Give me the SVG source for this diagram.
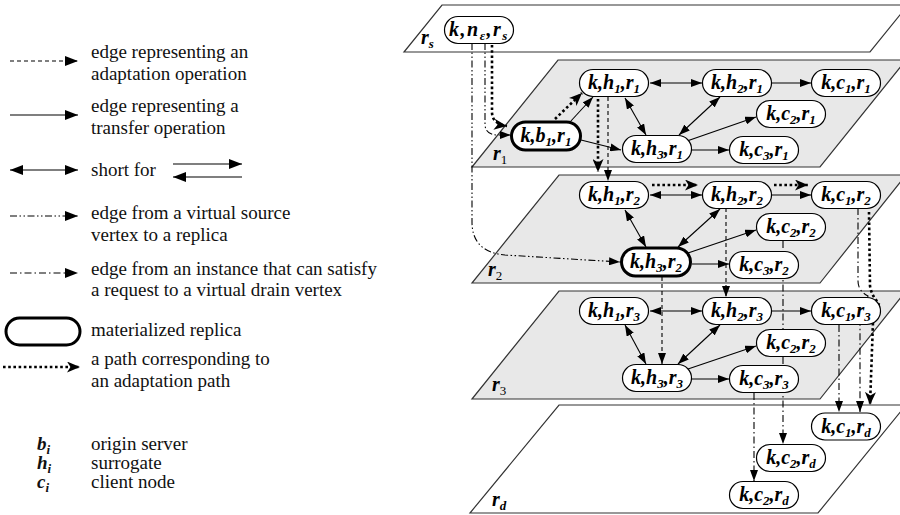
<svg xmlns="http://www.w3.org/2000/svg" width="900" height="515" viewBox="0 0 900 515">
  <style>
    .plane { stroke: #333; stroke-width: 1.2; }
    .gray { fill: #e8e8e8; }
    .white { fill: #fff; }
    .c { fill: none; stroke: #000; stroke-width: 1.1; }
    .one { marker-end: url(#ah); }
    .dbl { marker-start: url(#ah); marker-end: url(#ah); }
    .dash { stroke-dasharray: 4 3; }
    .src { stroke-dasharray: 7 2.5 1.5 2.5 1.5 2.5; }
    .drn { stroke-dasharray: 7 3 1.5 3; }
    .dot { stroke-width: 2.6; stroke-dasharray: 2.6 2.6; marker-end: url(#ahD); }
    .node rect { fill: #fff; stroke: #000; stroke-width: 1.2; }
    .node.mat rect { stroke-width: 3; }
    .nt { font-family: "Liberation Serif", "Times New Roman", serif; font-style: italic; font-weight: bold; font-size: 20px; text-anchor: middle; fill: #000; }
    .sub { font-size: 13px; }
    .pl { font-family: "Liberation Serif", "Times New Roman", serif; font-style: italic; font-weight: bold; font-size: 20px; fill: #000; }
    .plsub { font-size: 13px; font-style: normal; font-weight: normal; }
    .lg { font-family: "Liberation Serif", "Times New Roman", serif; font-size: 19px; fill: #111; }
    .lgs { font-family: "Liberation Serif", "Times New Roman", serif; font-size: 19px; font-style: italic; font-weight: bold; fill: #111; }
    .lc { fill: none; stroke: #000; stroke-width: 1.2; }
    .lc.ldot { stroke-width: 2.6; stroke-dasharray: 2.6 2.6; }
  </style>
  <defs>
    <marker id="ah" viewBox="0 0 11 8" refX="11" refY="4" markerWidth="11" markerHeight="8" markerUnits="userSpaceOnUse" orient="auto-start-reverse">
      <path d="M0,0 L11,4 L0,8 z" fill="#000"/>
    </marker>
    <marker id="ahL" viewBox="0 0 13 10" refX="13" refY="5" markerWidth="13" markerHeight="10" markerUnits="userSpaceOnUse" orient="auto-start-reverse">
      <path d="M0,0 L13,5 L0,10 z" fill="#000"/>
    </marker>
    <marker id="ahD" viewBox="0 0 13 11" refX="13" refY="5.5" markerWidth="13" markerHeight="11" markerUnits="userSpaceOnUse" orient="auto">
      <path d="M0,0 L13,5.5 L0,11 L3.5,5.5 z" fill="#000"/>
    </marker>
  </defs>

  <!-- legend -->
  <g id="legend">
    <line class="lc dash" x1="10" y1="61" x2="78" y2="61" marker-end="url(#ahL)"/>
    <text class="lg" x="91" y="58">edge representing an</text>
    <text class="lg" x="91" y="80">adaptation operation</text>

    <line class="lc" x1="10" y1="115" x2="78" y2="115" marker-end="url(#ahL)"/>
    <text class="lg" x="91" y="112">edge representing a</text>
    <text class="lg" x="91" y="134">transfer operation</text>

    <line class="lc" x1="10" y1="170" x2="78" y2="170" marker-start="url(#ahL)" marker-end="url(#ahL)"/>
    <text class="lg" x="91" y="176">short for</text>
    <line class="lc" x1="173" y1="164" x2="242" y2="164" marker-end="url(#ahL)"/>
    <line class="lc" x1="242" y1="177" x2="173" y2="177" marker-end="url(#ahL)"/>

    <line class="lc src" x1="10" y1="216" x2="78" y2="216" marker-end="url(#ahL)"/>
    <text class="lg" x="91" y="219">edge from a virtual source</text>
    <text class="lg" x="91" y="241">vertex to a replica</text>

    <line class="lc drn" x1="10" y1="273" x2="78" y2="273" marker-end="url(#ahL)"/>
    <text class="lg" x="91" y="275">edge from an instance that can satisfy</text>
    <text class="lg" x="91" y="296">a request to a virtual drain vertex</text>

    <rect x="6" y="318" width="74" height="27" rx="13.5" fill="#fff" stroke="#000" stroke-width="3"/>
    <text class="lg" x="91" y="336">materialized replica</text>

    <line class="lc ldot" x1="3" y1="367" x2="80" y2="367" marker-end="url(#ahD)"/>
    <text class="lg" x="91" y="365">a path corresponding to</text>
    <text class="lg" x="91" y="387">an adaptation path</text>

    <text class="lgs" x="37" y="450">b<tspan class="sub" dy="4">i</tspan></text>
    <text class="lg" x="91" y="450">origin server</text>
    <text class="lgs" x="37" y="469">h<tspan class="sub" dy="4">i</tspan></text>
    <text class="lg" x="91" y="469">surrogate</text>
    <text class="lgs" x="37" y="488">c<tspan class="sub" dy="4">i</tspan></text>
    <text class="lg" x="91" y="488">client node</text>
  </g>

  <!-- stacked layers -->
  <g id="planes">
    <path class="plane white" d="M442,5 L908,5 L870,52 L404,52 Z"/>
    <path class="plane gray" d="M558,60 L906,60 L820,167 L472,167 Z"/>
    <path class="plane gray" d="M559,175 L906,175 L820,283 L472,283 Z"/>
    <path class="plane gray" d="M559,291 L906,291 L820,399 L472,399 Z"/>
    <path class="plane white" d="M559,405 L906,405 L818,513 L470,513 Z"/>
  </g>

  <!-- edges -->
  <g id="connectors">
    <!-- virtual source -->
    <path class="c dot" d="M492,45 L492,112 Q492,124 507,126"/>
    <path class="c src one" d="M485,43 L485,124 Q485,135 498,135 L511,135"/>
    <path class="c src one" d="M472,43 L472,222 Q472,252 505,255 L620,262"/>

    <!-- layer r1 -->
    <path class="c dbl" d="M650,83 L702,83"/>
    <path class="c one" d="M771,83 L811,83"/>
    <path class="c dbl" d="M625,98 L646,135"/>
    <path class="c dbl" d="M720,97 L679,135"/>
    <path class="c one" d="M687,141 L756,117"/>
    <path class="c one" d="M692,150 L729,150"/>
    <path class="c one" d="M570,122 L593,97"/>
    <path class="c one" d="M581,140 L621,150"/>
    <path class="c dot" d="M555,119 L582,93"/>
    <path class="c dash one" d="M608,97 L608,181"/>
    <path class="c dot" d="M598,99 L598,172"/>

    <!-- layer r2 -->
    <path class="c dbl" d="M650,195 L702,195"/>
    <path class="c dot" d="M652,185 L698,185"/>
    <path class="c one" d="M771,195 L811,195"/>
    <path class="c dot" d="M774,185 L808,185"/>
    <path class="c dbl" d="M625,210 L646,247"/>
    <path class="c dbl" d="M720,209 L678,247"/>
    <path class="c one" d="M688,253 L756,230"/>
    <path class="c one" d="M692,264 L729,264"/>
    <path class="c dash one" d="M726,208 L726,297"/>
    <path class="c dash one" d="M662,277 L662,364"/>
    <path class="c drn one" d="M783,241 L783,444"/>
    <path class="c drn one" d="M858,208 L858,281 Q858,291 868,296 L860,322 L860,412"/>
    <path class="c dot" d="M869,212 L870,286 Q872,297 879,303 L873,322 L870,405"/>

    <!-- layer r3 -->
    <path class="c dbl" d="M650,311 L702,311"/>
    <path class="c one" d="M771,311 L811,311"/>
    <path class="c dbl" d="M625,325 L646,364"/>
    <path class="c dbl" d="M720,325 L678,364"/>
    <path class="c one" d="M688,369 L756,346"/>
    <path class="c one" d="M692,379 L729,379"/>
    <path class="c drn one" d="M839,325 L839,412"/>
    <path class="c drn one" d="M754,393 L754,481"/>
  </g>

  <!-- vertices -->
  <g id="n-ns-rs" class="node"><rect x="444.5" y="16.5" width="69" height="27" rx="13.5"/><text class="nt" x="479" y="36" letter-spacing="1.5">k,n<tspan class="sub" dy="4">ε</tspan><tspan dy="-4">,r</tspan><tspan class="sub" dy="4">s</tspan></text></g>

  <g id="n-b1-r1" class="node mat"><rect x="511.5" y="122" width="69" height="28" rx="14"/><text class="nt" x="546" y="142">k,b<tspan class="sub" dy="4">1</tspan><tspan dy="-4">,r</tspan><tspan class="sub" dy="4">1</tspan></text></g>
  <g id="n-h1-r1" class="node"><rect x="579.5" y="69.5" width="69" height="27" rx="13.5"/><text class="nt" x="614" y="89">k,h<tspan class="sub" dy="4">1</tspan><tspan dy="-4">,r</tspan><tspan class="sub" dy="4">1</tspan></text></g>
  <g id="n-h2-r1" class="node"><rect x="702.5" y="69.5" width="69" height="27" rx="13.5"/><text class="nt" x="737" y="89">k,h<tspan class="sub" dy="4">2</tspan><tspan dy="-4">,r</tspan><tspan class="sub" dy="4">1</tspan></text></g>
  <g id="n-c1-r1" class="node"><rect x="811.5" y="69.5" width="69" height="27" rx="13.5"/><text class="nt" x="846" y="89">k,c<tspan class="sub" dy="4">1</tspan><tspan dy="-4">,r</tspan><tspan class="sub" dy="4">1</tspan></text></g>
  <g id="n-c2-r1" class="node"><rect x="756.5" y="100.5" width="69" height="27" rx="13.5"/><text class="nt" x="791" y="120">k,c<tspan class="sub" dy="4">2</tspan><tspan dy="-4">,r</tspan><tspan class="sub" dy="4">1</tspan></text></g>
  <g id="n-h3-r1" class="node"><rect x="622.5" y="135.5" width="69" height="27" rx="13.5"/><text class="nt" x="657" y="155">k,h<tspan class="sub" dy="4">3</tspan><tspan dy="-4">,r</tspan><tspan class="sub" dy="4">1</tspan></text></g>
  <g id="n-c3-r1" class="node"><rect x="729.5" y="136.5" width="69" height="27" rx="13.5"/><text class="nt" x="764" y="156">k,c<tspan class="sub" dy="4">3</tspan><tspan dy="-4">,r</tspan><tspan class="sub" dy="4">1</tspan></text></g>

  <g id="n-h1-r2" class="node"><rect x="579.5" y="181.5" width="69" height="27" rx="13.5"/><text class="nt" x="614" y="201">k,h<tspan class="sub" dy="4">1</tspan><tspan dy="-4">,r</tspan><tspan class="sub" dy="4">2</tspan></text></g>
  <g id="n-h2-r2" class="node"><rect x="702.5" y="181.5" width="69" height="27" rx="13.5"/><text class="nt" x="737" y="201">k,h<tspan class="sub" dy="4">2</tspan><tspan dy="-4">,r</tspan><tspan class="sub" dy="4">2</tspan></text></g>
  <g id="n-c1-r2" class="node"><rect x="811.5" y="181.5" width="69" height="27" rx="13.5"/><text class="nt" x="846" y="201">k,c<tspan class="sub" dy="4">1</tspan><tspan dy="-4">,r</tspan><tspan class="sub" dy="4">2</tspan></text></g>
  <g id="n-c2-r2" class="node"><rect x="756.5" y="213.5" width="69" height="27" rx="13.5"/><text class="nt" x="791" y="233">k,c<tspan class="sub" dy="4">2</tspan><tspan dy="-4">,r</tspan><tspan class="sub" dy="4">2</tspan></text></g>
  <g id="n-h3-r2" class="node mat"><rect x="621.5" y="248" width="69" height="28" rx="14"/><text class="nt" x="656" y="268">k,h<tspan class="sub" dy="4">3</tspan><tspan dy="-4">,r</tspan><tspan class="sub" dy="4">2</tspan></text></g>
  <g id="n-c3-r2" class="node"><rect x="729.5" y="251.5" width="69" height="27" rx="13.5"/><text class="nt" x="764" y="271">k,c<tspan class="sub" dy="4">3</tspan><tspan dy="-4">,r</tspan><tspan class="sub" dy="4">2</tspan></text></g>

  <g id="n-h1-r3" class="node"><rect x="579.5" y="297.5" width="69" height="27" rx="13.5"/><text class="nt" x="614" y="317">k,h<tspan class="sub" dy="4">1</tspan><tspan dy="-4">,r</tspan><tspan class="sub" dy="4">3</tspan></text></g>
  <g id="n-h2-r3" class="node"><rect x="702.5" y="297.5" width="69" height="27" rx="13.5"/><text class="nt" x="737" y="317">k,h<tspan class="sub" dy="4">2</tspan><tspan dy="-4">,r</tspan><tspan class="sub" dy="4">3</tspan></text></g>
  <g id="n-c1-r3" class="node"><rect x="811.5" y="297.5" width="69" height="27" rx="13.5"/><text class="nt" x="846" y="317">k,c<tspan class="sub" dy="4">1</tspan><tspan dy="-4">,r</tspan><tspan class="sub" dy="4">3</tspan></text></g>
  <g id="n-c2-r3" class="node"><rect x="756.5" y="329.5" width="69" height="27" rx="13.5"/><text class="nt" x="791" y="349">k,c<tspan class="sub" dy="4">2</tspan><tspan dy="-4">,r</tspan><tspan class="sub" dy="4">2</tspan></text></g>
  <g id="n-h3-r3" class="node"><rect x="622.5" y="364.5" width="69" height="27" rx="13.5"/><text class="nt" x="657" y="384">k,h<tspan class="sub" dy="4">3</tspan><tspan dy="-4">,r</tspan><tspan class="sub" dy="4">3</tspan></text></g>
  <g id="n-c3-r3" class="node"><rect x="729.5" y="365.5" width="69" height="27" rx="13.5"/><text class="nt" x="764" y="385">k,c<tspan class="sub" dy="4">3</tspan><tspan dy="-4">,r</tspan><tspan class="sub" dy="4">3</tspan></text></g>

  <g id="n-c1-rd" class="node"><rect x="811.5" y="413" width="69" height="27" rx="13.5"/><text class="nt" x="846" y="432.5">k,c<tspan class="sub" dy="4">1</tspan><tspan dy="-4">,r</tspan><tspan class="sub" dy="4">d</tspan></text></g>
  <g id="n-c2-rd" class="node"><rect x="756.5" y="444.5" width="69" height="27" rx="13.5"/><text class="nt" x="791" y="464">k,c<tspan class="sub" dy="4">2</tspan><tspan dy="-4">,r</tspan><tspan class="sub" dy="4">d</tspan></text></g>
  <g id="n-c2-rd-b" class="node"><rect x="729.5" y="481.5" width="69" height="27" rx="13.5"/><text class="nt" x="764" y="501">k,c<tspan class="sub" dy="4">2</tspan><tspan dy="-4">,r</tspan><tspan class="sub" dy="4">d</tspan></text></g>

  <!-- layer names -->
  <g id="plane-labels">
    <text class="pl" x="421" y="44">r<tspan class="sub" dy="4">s</tspan></text>
    <text class="pl" x="493" y="160">r<tspan class="plsub" dy="4">1</tspan></text>
    <text class="pl" x="488" y="276">r<tspan class="plsub" dy="4">2</tspan></text>
    <text class="pl" x="492" y="391">r<tspan class="plsub" dy="4">3</tspan></text>
    <text class="pl" x="492" y="506">r<tspan class="sub" dy="4">d</tspan></text>
  </g>
</svg>
